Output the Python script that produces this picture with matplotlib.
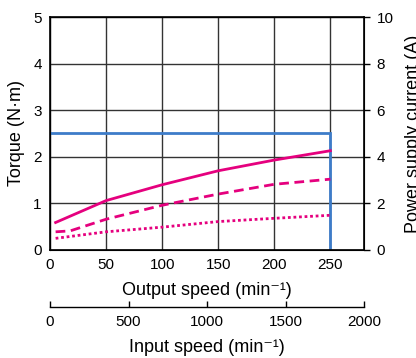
import numpy as np
import matplotlib
matplotlib.use("Agg")
import matplotlib.pyplot as plt

# values
solid_x = [5, 50, 100, 150, 200, 250]
solid_y = [0.59, 1.06, 1.40, 1.70, 1.93, 2.13]
dash_x = [5, 18, 50, 100, 150, 200, 250]
dash_y = [0.39, 0.41, 0.66, 0.96, 1.20, 1.41, 1.52]
dot_x = [5, 50, 100, 150, 200, 250]
dot_y = [0.25, 0.39, 0.49, 0.61, 0.68, 0.745]
limit_x = [0, 250, 250]
limit_y = [2.5, 2.5, 0]

out_ticks = [0, 50, 100, 150, 200, 250]
in_ticks = [0, 500, 1000, 1500, 2000]
torque_ticks = [0, 1, 2, 3, 4, 5]
current_ticks = [0, 2, 4, 6, 8, 10]
ratio = 2000 / 280

pink = "#e5007e"
blue = "#3d7cc9"
narrow = ["Liberation Sans Narrow", "Liberation Sans", "DejaVu Sans"]
tick_size = 11
label_size = 13

plt.rcParams["font.family"] = ["Liberation Sans", "DejaVu Sans"]

fig = plt.figure(figsize=(4.16, 3.58), dpi=100)
ax = fig.add_axes([0.1202, 0.3017, 0.7548, 0.6508])

ax.set_xlim(0, 280)
ax.set_ylim(0, 5)
ax.set_xticks(out_ticks)
ax.set_yticks(torque_ticks)
ax.grid(True, color="#333333", lw=1)
ax.set_axisbelow(True)
for s in ax.spines.values():
    s.set_linewidth(1.2)
ax.tick_params(length=0, labelsize=tick_size, pad=6)
for lab in ax.get_xticklabels() + ax.get_yticklabels():
    lab.set_family(narrow)

# lines
ax.plot(limit_x, limit_y, color=blue, lw=2, solid_joinstyle="miter")
ax.plot(solid_x, solid_y, color=pink, lw=2)
ax.plot(dash_x, dash_y, color=pink, lw=2, dashes=(3.5, 2))
ax.plot(dot_x, dot_y, color=pink, lw=2, dashes=(1, 1))

ax.set_xlabel("Output speed (min\u207b\u00b9)", fontsize=label_size, labelpad=7)
ax.set_ylabel("Torque (N\u00b7m)", fontsize=label_size, labelpad=6)

# right axis for current
ax2 = ax.twinx()
ax2.set_ylim(0, 10)
ax2.set_yticks(current_ticks)
ax2.tick_params(length=4, width=1, labelsize=tick_size, pad=5)
for lab in ax2.get_yticklabels():
    lab.set_family(narrow)
ax2.set_ylabel("Power supply current (A)", fontsize=label_size, labelpad=8)

# input speed axis below
sec = ax.secondary_xaxis(-0.245, functions=(lambda x: x * ratio, lambda x: x / ratio))
sec.set_xticks(in_ticks)
sec.tick_params(direction="in", length=4, width=1, labelsize=tick_size, pad=6)
for lab in sec.get_xticklabels():
    lab.set_family(narrow)
sec.spines["bottom"].set_linewidth(1)
sec.set_xlabel("Input speed (min\u207b\u00b9)", fontsize=label_size, labelpad=7)

fig.savefig("out.png", dpi=100)
